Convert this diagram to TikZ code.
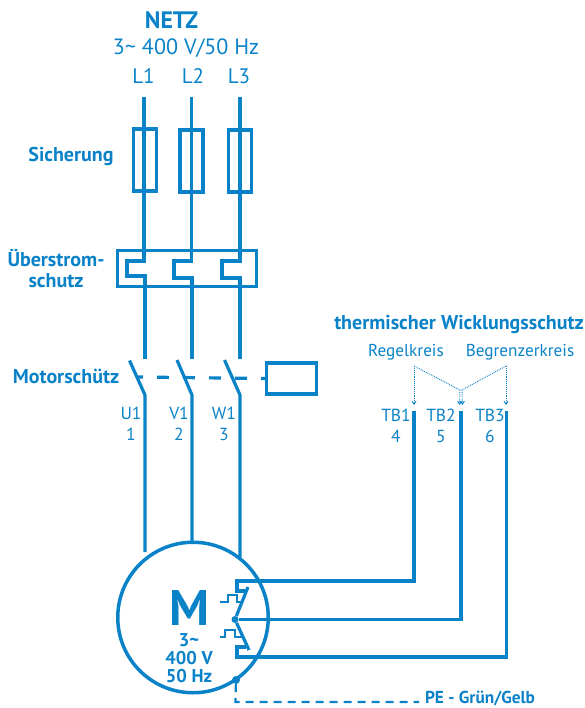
\documentclass[tikz,border=0pt]{standalone}
\usepackage{fontspec}
\setmainfont{PT Sans}
\usetikzlibrary{arrows.meta}
\definecolor{netzblue}{HTML}{0A82C8}
\tikzset{
	wire/.style={draw=netzblue,line width=3.2pt,line join=miter},
	thinwire/.style={draw=netzblue,line width=1.8pt},
	pewire/.style={draw=netzblue,line width=2.2pt,dash pattern=on 8pt off 6pt},
	linkwire/.style={draw=netzblue,line width=3.2pt,dash pattern=on 12pt off 14pt,dash phase=6pt},
	hint/.style={draw=netzblue,line width=0.9pt,densely dotted,-{Straight Barb[length=3pt,width=4pt]}},
	hintline/.style={draw=netzblue,line width=0.9pt,densely dotted},
	fuse/.style={draw=netzblue,line width=3.2pt,minimum width=23pt,minimum height=62pt,inner sep=0pt},
	plain/.style={text=netzblue,font=\fontsize{21}{26}\selectfont,inner sep=0pt,align=center},
	small/.style={text=netzblue,font=\fontsize{17.2}{20}\selectfont,inner sep=0pt,align=center},
	label/.style={text=netzblue,font=\fontsize{17.5}{21}\selectfont,inner sep=0pt,align=center},
	heading/.style={text=netzblue,font=\fontsize{20}{21}\selectfont\bfseries,inner sep=0pt,align=center}
}
\begin{document}
\begin{tikzpicture}[x=1pt,y=-1pt]
					\useasboundingbox (0,0) rectangle (584,708);
					\node[heading,font=\fontsize{23.8}{26}\selectfont\bfseries] (netz) at (171.5,20) {NETZ};
					\node[plain,font=\fontsize{22.1}{26}\selectfont] (supply) at (186,48) {3\char"7E{} 400 V/50 Hz};
					\node[plain] (lone) at (143.5,76) {L1};
					\node[plain] (ltwo) at (193,76) {L2};
					\node[plain] (lthree) at (239,76) {L3};

					\node[heading] (sicherung) at (71,156) {Sicherung};
					\node[heading] (ueberstrom) at (56,269) {Überstrom-\\schutz};
					\node[heading] (motorschuetz) at (66,376) {Motorschütz};
					\node[heading] (wicklung) at (459,325) {thermischer Wicklungsschutz};
					\node[small] (regel) at (406,352) {Regelkreis};
					\node[small] (begrenzer) at (520,352) {Begrenzerkreis};
					\node[heading,font=\fontsize{17.3}{20}\selectfont\bfseries] (pe) at (480,698.5) {PE - Grün/Gelb};

					\node[label] (uone) at (131,424) {U1\\1};
					\node[label] (vone) at (179,424) {V1\\2};
					\node[label] (wone) at (224,424) {W1\\3};
					\node[label] (tbone) at (396,426) {TB1\\4};
					\node[label] (tbtwo) at (441,426) {TB2\\5};
					\node[label] (tbthree) at (490,426) {TB3\\6};

					\node[fuse] (fone) at (145,160) {};
					\node[fuse] (ftwo) at (191.5,161) {};
					\node[fuse] (fthree) at (240,161) {};
					\node[draw=netzblue,line width=3.2pt,minimum width=139pt,minimum height=36pt,inner sep=0pt] (relay) at (187,268.5) {};
					\node[draw=netzblue,line width=3.2pt,minimum width=50pt,minimum height=31pt,inner sep=0pt] (coil) at (291.5,378.5) {};
					\node[circle,draw=netzblue,line width=3.5pt,minimum size=150.5pt,inner sep=0pt] (motor) at (193,617.5) {};
					\node[text=netzblue,font=\fontsize{50}{50}\selectfont\bfseries,inner sep=0pt] (emm) at (189,608) {M};
					\node[heading,font=\fontsize{18.5}{18}\selectfont\bfseries] (rating) at (189,658) {3\char"7E\\400 V\\50 Hz};
					\node[circle,fill=netzblue,minimum size=7pt,inner sep=0pt] (star) at (235,619.5) {};
					\node[circle,fill=netzblue,minimum size=8pt,inner sep=0pt] (earth) at (236,680) {};

					\coordinate (aone) at (144,97);
					\coordinate (atwo) at (191.5,97);
					\coordinate (athree) at (240,97);
					\coordinate (bone) at (145,359);
					\coordinate (btwo) at (192,359);
					\coordinate (bthree) at (240,359);
					\coordinate (cone) at (145,395);
					\coordinate (ctwo) at (192,395);
					\coordinate (cthree) at (240,395);
					\coordinate (done) at (145,552);
					\coordinate (dtwo) at (192,542);
					\coordinate (dthree) at (240,557);
					\coordinate (tone) at (414,411);
					\coordinate (ttwo) at (461,411);
					\coordinate (tthree) at (506.5,411);
					\coordinate (pecorner) at (235.5,702);
					\coordinate (peend) at (419,702);
					\coordinate (linkstart) at (137,377);
					\coordinate (regelend) at (414,366);
					\coordinate (begrenzerend) at (506,366);
					\coordinate (meetleft) at (460,390);
					\coordinate (meetright) at (462,390);

					\draw[wire] (aone) -- (144,261) -- (127,261) -- (127,276) -- (145,276) -- (bone);
					\draw[wire] (atwo) -- (191.5,261) -- (174,261) -- (174,278) -- (192,278) -- (btwo);
					\draw[wire] (athree) -- (240,261) -- (222,261) -- (222,278) -- (240,278) -- (bthree);
					\draw[wire] (129.5,360.5) -- (cone) -- (done);
					\draw[wire] (177,360) -- (ctwo) -- (dtwo);
					\draw[wire] (224.5,360) -- (cthree) -- (dthree);
					\draw[linkwire] (linkstart) -- (coil.west);

					\draw[wire] (tone) -- (414,581) -- (237,581) -- (237,591) -- (246,591);
					\draw[wire] (ttwo) -- (461,619.5) -- (star);
					\draw[wire] (tthree) -- (506.5,657) -- (237,657) -- (237,647) -- (246,647);
					\draw[wire] (248,587) -- (star) -- (249,650);
					\draw[thinwire] (220,602) -- (228,602) -- (228,595) -- (237,595) -- (237,602) -- (241,602);
					\draw[thinwire] (220,637) -- (225,637) -- (225,630) -- (235,630) -- (235,637) -- (243,637);

					\draw[pewire] (earth) -- (pecorner) -- (peend);

					\draw[hint] (regelend) -- (414,405);
					\draw[hint] (begrenzerend) -- (506,405);
					\draw[hintline] (regelend) -- (meetleft);
					\draw[hintline] (begrenzerend) -- (meetright);
					\draw[hint] (meetleft) -- (459.5,405);
					\draw[hint] (meetright) -- (462.5,405);
				\end{tikzpicture}
\end{document}
